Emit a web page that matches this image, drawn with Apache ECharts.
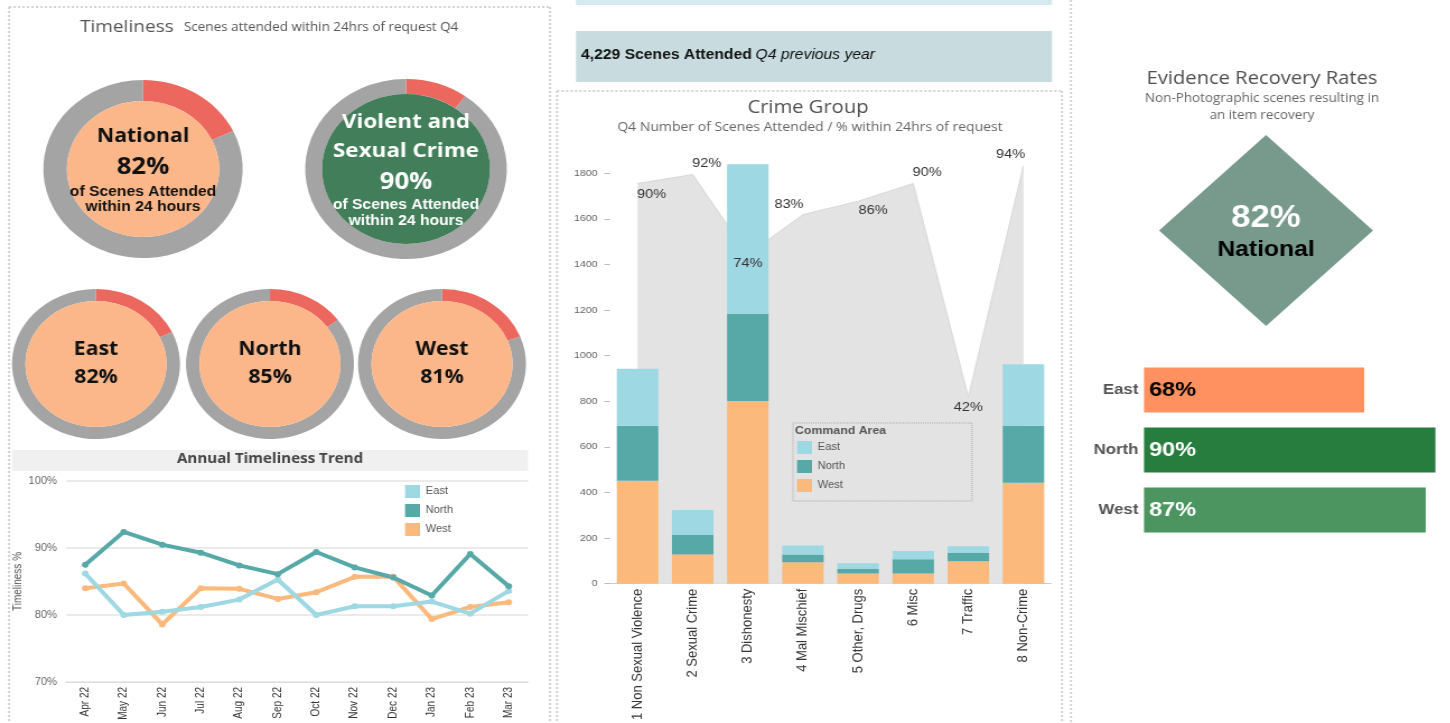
<!DOCTYPE html>
<html>
<head>
<meta charset="utf-8">
<title>Scenes Attended</title>
<script src="https://cdn.jsdelivr.net/npm/echarts@6/dist/echarts.min.js"></script>
<style>
  html, body { margin: 0; padding: 0; background: #fff; overflow: hidden; }
  /* the source dashboard is stretched ~1.12x sideways, so draw narrow and stretch it */
  #main { width: 1295px; height: 723px; transform: scaleX(1.12); transform-origin: 0 0; }
</style>
</head>
<body>
<div id="main"></div>
<script>
var gaugeNames = ['National', 'Violent and\nSexual Crime', 'East', 'North', 'West'];
var gaugePct = [82, 90, 82, 85, 81];

var months = ['Apr 22', 'May 22', 'Jun 22', 'Jul 22', 'Aug 22', 'Sep 22', 'Oct 22', 'Nov 22', 'Dec 22', 'Jan 23', 'Feb 23', 'Mar 23'];
var trendEast = [86.2, 80.0, 80.5, 81.2, 82.3, 85.3, 80.0, 81.3, 81.3, 82.0, 80.2, 83.6];
var trendNorth = [87.5, 92.4, 90.5, 89.3, 87.4, 86.1, 89.4, 87.1, 85.6, 82.9, 89.1, 84.3];
var trendWest = [84.0, 84.7, 78.6, 84.0, 83.9, 82.4, 83.4, 85.7, 85.7, 79.4, 81.2, 81.9];

var crimeGroups = ['1 Non Sexual Violence', '2 Sexual Crime', '3 Dishonesty', '4 Mal Mischief', '5 Other, Drugs', '6 Misc', '7 Traffic', '8 Non-Crime'];
var crimeWest = [451, 128, 801, 94, 45, 45, 99, 443];
var crimeNorth = [242, 86, 383, 34, 20, 62, 37, 250];
var crimeEast = [250, 109, 655, 40, 25, 36, 28, 269];
var crimePct = [90, 92, 74, 83, 86, 90, 42, 94];

var prevYearScenes = '4,229';
var recoveryNational = 82;
var recoveryAreas = ['East', 'North', 'West'];
var recoveryPct = [68, 90, 87];

// screen x -> canvas x (canvas is stretched by css)
var STRETCH = 1.12;
function X(v) { return v / STRETCH; }

var EAST = '#9ed8e3', NORTH = '#56a9a7', WEST = '#fcb97c';
var PEACH = '#fbb78a', RED = '#ec675d', RING = '#a4a4a4';
var SANS = 'Open Sans', ARIAL = 'Liberation Sans';

var chart = echarts.init(document.getElementById('main'));

// ---- donuts
function rich(size, lh, color, family) {
  return { fontFamily: family || SANS, fontWeight: 'bold', fontSize: size, lineHeight: lh, color: color };
}
var richNational = { h0: rich(19, 27, '#111'), p: rich(23, 35, '#111'), s: rich(14, 15, '#111', ARIAL) };
var richViolent = { h0: rich(20, 26, '#fff'), h1: rich(20, 32, '#fff'), p: rich(23, 30, '#fff'), s: rich(14, 16, '#fff', ARIAL) };
var richRegion = { h0: rich(19, 28, '#111'), p: rich(19, 28, '#111') };

var gaugeSpots = [
  { c: [143, 169], r: [68, 89], fill: PEACH, rich: richNational },
  { c: [406, 169], r: [75, 90], fill: '#427e59', rich: richViolent },
  { c: [96, 364], r: [63, 75], fill: PEACH, rich: richRegion },
  { c: [270, 364], r: [63, 75], fill: PEACH, rich: richRegion },
  { c: [442, 364], r: [63, 75], fill: PEACH, rich: richRegion }
];

function gaugeText(i) {
  var head = gaugeNames[i].split('\n').map(function (s, k) { return '{h' + k + '|' + s + '}'; }).join('\n');
  var txt = head + '\n{p|' + gaugePct[i] + '%}';
  if (i < 2) txt += '\n{s|of Scenes Attended}\n{s|within 24 hours}';
  return txt;
}

var series = [];
gaugeSpots.forEach(function (g, i) {
  var center = [X(g.c[0]), g.c[1]];
  series.push({
    type: 'pie', silent: true, center: center, radius: g.r, startAngle: 90,
    label: { show: false }, labelLine: { show: false },
    data: [
      { value: 100 - gaugePct[i], itemStyle: { color: RED } },
      { value: gaugePct[i], itemStyle: { color: RING } }
    ]
  });
  series.push({
    type: 'pie', silent: true, center: center, radius: [0, g.r[0]],
    itemStyle: { color: g.fill }, labelLine: { show: false },
    label: { show: true, position: 'center', formatter: gaugeText(i), rich: g.rich },
    data: [{ value: 1 }]
  });
});

// ---- annual trend lines
var lineDefs = [['West', trendWest, WEST], ['East', trendEast, EAST], ['North', trendNorth, NORTH]];
lineDefs.forEach(function (d) {
  series.push({
    name: d[0], type: 'line', xAxisIndex: 0, yAxisIndex: 0, data: d[1],
    symbol: 'circle', symbolSize: 6, color: d[2],
    lineStyle: { width: 4 }
  });
});

// ---- crime group: % area behind stacked bars, its labels on top
series.push({
  type: 'line', xAxisIndex: 1, yAxisIndex: 2, z: 1, silent: true, data: crimePct,
  symbol: 'none',
  lineStyle: { color: '#d8d8d8', width: 1 },
  areaStyle: { color: '#e3e3e3', opacity: 1 }
});
[['West', crimeWest, WEST], ['North', crimeNorth, NORTH], ['East', crimeEast, EAST]].forEach(function (d) {
  series.push({
    name: d[0], type: 'bar', stack: 'crime', xAxisIndex: 1, yAxisIndex: 1, z: 3,
    data: d[1], color: d[2], barWidth: X(41.5)
  });
});
var pctOffsets = [[14, 11], [14, -11], [0, 9], [-14, -10], [15, 9], [14, -11], [0, 10], [-13, -11]];
series.push({
  type: 'line', xAxisIndex: 1, yAxisIndex: 2, z: 6, silent: true,
  data: crimePct.map(function (v, i) {
    return { value: v, label: { offset: [X(pctOffsets[i][0]), pctOffsets[i][1]] } };
  }),
  symbol: 'circle', symbolSize: 1, itemStyle: { color: 'rgba(0,0,0,0)' },
  lineStyle: { width: 0, opacity: 0 },
  label: { show: true, position: 'inside', formatter: '{c}%', fontFamily: ARIAL, fontSize: 13, color: '#333' }
});

// ---- recovery bars (100% would sit past the page edge, so the axis stops at 94.5%)
var recoveryColors = ['#fe915f', '#277d3e', '#4c9460'];
var recoveryInk = ['#000', '#fff', '#fff'];
series.push({
  type: 'bar', xAxisIndex: 2, yAxisIndex: 3, barWidth: 45, silent: true,
  data: recoveryPct.map(function (v, i) {
    return { value: v, itemStyle: { color: recoveryColors[i] }, label: { color: recoveryInk[i] } };
  }),
  label: { show: true, position: 'insideLeft', distance: 4.5, formatter: '{c}%', fontFamily: ARIAL, fontWeight: 'bold', fontSize: 21 }
});

// ---- decoration
function dots(x1, y1, x2, y2) {
  return {
    type: 'line', silent: true,
    shape: { x1: X(x1), y1: y1, x2: X(x2), y2: y2 },
    style: { stroke: '#d0d0d0', lineWidth: 1.8, lineDash: [2, 2] }
  };
}
function txt(x, y, text, font, fill, align) {
  return {
    type: 'text', silent: true, z: 10, x: X(x), y: y,
    style: { text: text, font: font, fill: fill, textAlign: align || 'left', textVerticalAlign: 'middle' }
  };
}

var dx = X(1266), dy = 230.5, dh = 95.5;
var graphic = [
  dots(9, 7, 550, 7), dots(9, 7, 9, 723), dots(550, 7, 550, 723),
  dots(557, 91, 1062, 91), dots(557, 91, 557, 723), dots(1062, 91, 1062, 723),
  dots(1071, 0, 1071, 723),
  txt(80, 27, 'Timeliness', '17px "Open Sans"', '#555'),
  txt(184, 28, 'Scenes attended within 24hrs of request Q4', '12px "Open Sans"', '#555'),
  { type: 'rect', silent: true, shape: { x: X(12), y: 450, width: X(516), height: 21 }, style: { fill: '#f0f0f0' } },
  txt(270, 459, 'Annual Timeliness Trend', 'bold 13.5px "Open Sans"', '#444', 'center'),
  { type: 'rect', silent: true, shape: { x: X(576), y: 0, width: X(476), height: 5 }, style: { fill: '#d5e9f0' } },
  { type: 'rect', silent: true, shape: { x: X(576), y: 31, width: X(476), height: 51 }, style: { fill: '#c8dcdf' } },
  {
    type: 'text', silent: true, x: X(581), y: 55,
    style: {
      text: '{b|' + prevYearScenes + ' Scenes Attended} {i|Q4 previous year}', textVerticalAlign: 'middle',
      rich: {
        b: { fontFamily: ARIAL, fontWeight: 'bold', fontSize: 14, fill: '#111' },
        i: { fontFamily: ARIAL, fontStyle: 'italic', fontSize: 14, fill: '#111' }
      }
    }
  },
  txt(808, 108, 'Crime Group', '18px "Open Sans"', '#4f4f4f', 'center'),
  txt(810, 127, 'Q4 Number of Scenes Attended / % within 24hrs of request', '12.5px "Open Sans"', '#666', 'center'),
  { type: 'rect', silent: true, z: 10, shape: { x: X(793), y: 423, width: X(179), height: 78 }, style: { fill: 'none', stroke: '#aaa', lineWidth: 1, lineDash: [1, 1] } },
  txt(795, 431, 'Command Area', 'bold 11px "Liberation Sans"', '#555'),
  txt(1262, 79, 'Evidence Recovery Rates', '18px "Open Sans"', '#4f4f4f', 'center'),
  txt(1262, 99, 'Non-Photographic scenes resulting in', '12px "Open Sans"', '#666', 'center'),
  txt(1262, 116, 'an item recovery', '12px "Open Sans"', '#666', 'center'),
  { type: 'polygon', silent: true, shape: { points: [[dx, dy - dh], [dx + dh, dy], [dx, dy + dh], [dx - dh, dy]] }, style: { fill: '#779a8d' } },
  txt(1266, 218, recoveryNational + '%', 'bold 31px "Liberation Sans"', '#fff', 'center'),
  txt(1266, 250, 'National', 'bold 22px "Liberation Sans"', '#000', 'center')
];

chart.setOption({
  animation: false,
  backgroundColor: '#fff',
  graphic: graphic,
  legend: [
    {
      data: ['East', 'North', 'West'], orient: 'vertical', left: X(405), top: 485, padding: 0,
      itemWidth: X(15), itemHeight: 13, itemGap: 6, icon: 'rect', selectedMode: false,
      textStyle: { fontFamily: ARIAL, fontSize: 10, color: '#555' }
    },
    {
      data: ['East', 'North', 'West'], orient: 'vertical', left: X(797), top: 441, padding: 0, z: 12,
      itemWidth: X(15), itemHeight: 13, itemGap: 6, icon: 'rect', selectedMode: false,
      textStyle: { fontFamily: ARIAL, fontSize: 10, color: '#555' }
    }
  ],
  grid: [
    { left: X(66), top: 481, width: X(462), height: 201 },
    { left: X(610), top: 139, width: X(441), height: 448 },
    { left: X(1144), top: 360, width: X(306), height: 180 }
  ],
  xAxis: [
    {
      type: 'category', gridIndex: 0, data: months,
      axisLine: { lineStyle: { color: '#ddd' } },
      axisTick: { length: 5, lineStyle: { color: '#ccc' } },
      axisLabel: { interval: 0, rotate: 90, margin: 5, fontFamily: ARIAL, fontSize: 10, color: '#333' }
    },
    {
      type: 'category', gridIndex: 1, data: crimeGroups,
      axisLine: { lineStyle: { color: '#ccc' } },
      axisTick: { length: 5, lineStyle: { color: '#ccc' } },
      axisLabel: { interval: 0, rotate: 90, margin: 5, fontFamily: ARIAL, fontSize: 13, color: '#333' }
    },
    { type: 'value', gridIndex: 2, min: 0, max: 94.5, show: false }
  ],
  yAxis: [
    {
      type: 'value', gridIndex: 0, min: 70, max: 100, interval: 10,
      name: 'Timeliness %', nameLocation: 'middle', nameGap: 36,
      nameTextStyle: { fontFamily: ARIAL, fontSize: 10, color: '#555' },
      axisLine: { show: false }, axisTick: { show: false },
      axisLabel: { formatter: '{value}%', fontFamily: ARIAL, fontSize: 10, color: '#666', margin: 8 },
      splitLine: { lineStyle: { color: '#ebebeb', width: 2 } }
    },
    {
      type: 'value', gridIndex: 1, min: 0, max: 1950, interval: 200,
      axisLine: { show: false },
      axisTick: { show: true, length: 5, lineStyle: { color: '#bbb' } },
      axisLabel: {
        showMaxLabel: false, fontFamily: ARIAL, fontSize: 9.5, color: '#666', margin: 11,
        formatter: function (v) { return String(v); }
      },
      splitLine: { show: false }
    },
    { type: 'value', gridIndex: 1, min: 0, max: 100, show: false },
    {
      type: 'category', gridIndex: 2, data: recoveryAreas, inverse: true,
      axisLine: { show: false }, axisTick: { show: false },
      axisLabel: { fontFamily: ARIAL, fontWeight: 'bold', fontSize: 15, color: '#555', margin: 5 }
    }
  ],
  series: series
});
</script>
</body>
</html>
